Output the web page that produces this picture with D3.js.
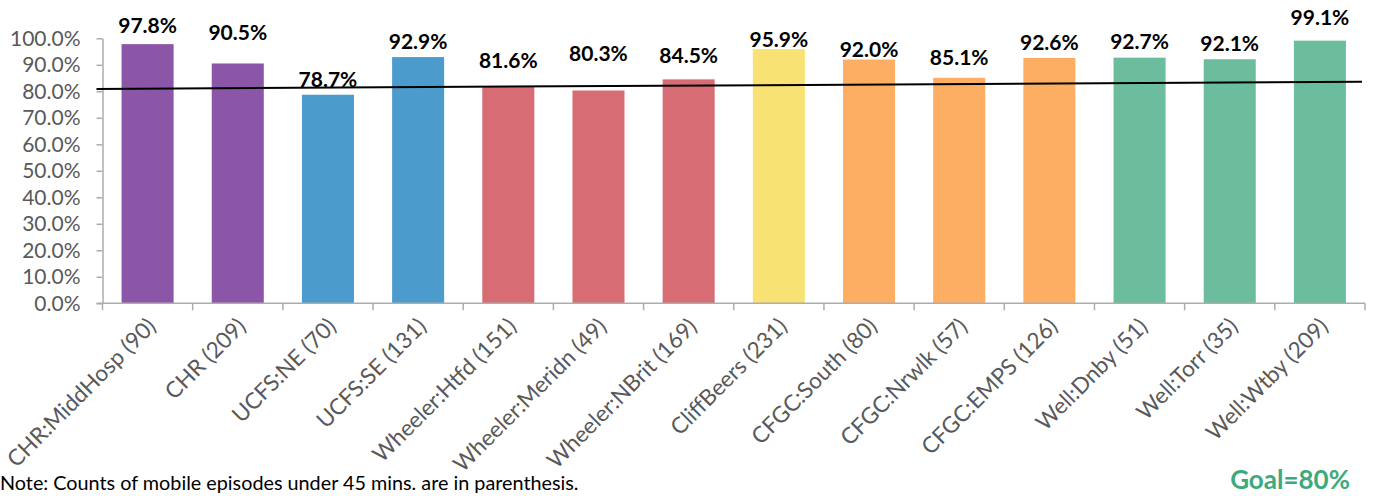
<!DOCTYPE html>
<html>
<head>
<meta charset="utf-8">
<script src="https://cdn.jsdelivr.net/npm/d3@7"></script>
<style>
  html, body { margin: 0; padding: 0; background: #fff; }
  svg { display: block; }
  text { font-family: Lato, "Open Sans", sans-serif; }
</style>
</head>
<body>
<svg id="chart" width="1374" height="496"></svg>
<script>
// Share of mobile episodes under 45 minutes, by agency site
const categories = [
  "CHR:MiddHosp (90)", "CHR (209)", "UCFS:NE (70)", "UCFS:SE (131)",
  "Wheeler:Htfd (151)", "Wheeler:Meridn (49)", "Wheeler:NBrit (169)",
  "CliffBeers (231)", "CFGC:South (80)", "CFGC:Nrwlk (57)", "CFGC:EMPS (126)",
  "Well:Dnby (51)", "Well:Torr (35)", "Well:Wtby (209)"
];
const agencies = [
  "CHR", "CHR", "UCFS", "UCFS", "Wheeler", "Wheeler", "Wheeler",
  "CliffBeers", "CFGC", "CFGC", "CFGC", "Well", "Well", "Well"
];
const values = [97.8, 90.5, 78.7, 92.9, 81.6, 80.3, 84.5, 95.9, 92.0, 85.1, 92.6, 92.7, 92.1, 99.1];
const yTicks = [0, 10, 20, 30, 40, 50, 60, 70, 80, 90, 100];
// goal reference line, value at its left and right ends
const goalLine = [80.9, 83.6];
const goalLabel = "Goal=80%";
const noteText = "Note: Counts of mobile episodes under 45 mins. are in parenthesis.";

// layout
const agencyColors = ["#8B56A7", "#4B9BCC", "#D76C75", "#F8E274", "#FDAE62", "#6CBD9E"];
// gap in px between each bar top and the baseline of its value label
const labelLift = [10.8, 23.5, 7.5, 7.8, 18.8, 29.5, 16, 2.5, 2.2, 12.8, 7.9, 8.6, 8.5, 15.7];

const plot = { left: 102.5, right: 1365, top: 38.3, bottom: 303.3 };
const axisGray = "#ADADAD";
const labelGray = "#595959";

const svg = d3.select("#chart");

const x = d3.scaleBand()
  .domain(categories)
  .range([plot.left, plot.right])
  .paddingInner(0.423)
  .paddingOuter(0.2115);

const y = d3.scaleLinear()
  .domain([0, 100])
  .range([plot.bottom, plot.top]);

const color = d3.scaleOrdinal()
  .domain(["CHR", "UCFS", "Wheeler", "CliffBeers", "CFGC", "Well"])
  .range(agencyColors);

// y axis
const yAxis = svg.append("g")
  .attr("transform", `translate(${plot.left},0)`)
  .call(d3.axisLeft(y)
    .tickValues(yTicks)
    .tickSize(6)
    .tickSizeOuter(0)
    .tickPadding(16)
    .tickFormat(d => d.toFixed(1) + "%"));
yAxis.select(".domain").attr("stroke", axisGray).attr("stroke-width", 1.5);
yAxis.selectAll(".tick line").attr("stroke", axisGray).attr("stroke-width", 1.5);
yAxis.selectAll(".tick text")
  .attr("fill", labelGray)
  .style("font-size", "21px");

// bars
const data = categories.map((c, i) => ({ cat: c, agency: agencies[i], value: values[i], lift: labelLift[i] }));

svg.append("g")
  .selectAll("rect")
  .data(data)
  .join("rect")
  .attr("x", d => x(d.cat))
  .attr("width", x.bandwidth())
  .attr("y", d => y(d.value))
  .attr("height", d => y(0) - y(d.value))
  .attr("fill", d => color(d.agency));

// x axis line with category boundary ticks
const half = (x.step() - x.bandwidth()) / 2;
const boundaries = categories.map(c => x(c) - half).concat([x(categories[categories.length - 1]) + x.bandwidth() + half]);
const xAxis = svg.append("g");
xAxis.append("line")
  .attr("x1", plot.left - 6).attr("x2", boundaries[boundaries.length - 1])
  .attr("y1", y(0)).attr("y2", y(0))
  .attr("stroke", axisGray).attr("stroke-width", 1.5);
xAxis.selectAll("line.tick")
  .data(boundaries)
  .join("line")
  .attr("class", "tick")
  .attr("x1", d => d).attr("x2", d => d)
  .attr("y1", y(0)).attr("y2", y(0) + 7)
  .attr("stroke", axisGray).attr("stroke-width", 1.5);

// rotated category labels
xAxis.selectAll("text")
  .data(categories)
  .join("text")
  .attr("transform", d => `translate(${x(d) + x.bandwidth() / 2 + 4},${y(0) + 19}) rotate(-45)`)
  .attr("text-anchor", "end")
  .attr("dy", "0.35em")
  .attr("fill", labelGray)
  .style("font-size", "22.5px")
  .text(d => d);

// goal line
svg.append("line")
  .attr("x1", plot.left - 6).attr("x2", plot.right - 3)
  .attr("y1", y(goalLine[0])).attr("y2", y(goalLine[1]))
  .attr("stroke", "#000").attr("stroke-width", 2);

// value labels
svg.append("g")
  .selectAll("text")
  .data(data)
  .join("text")
  .attr("x", d => x(d.cat) + x.bandwidth() / 2)
  .attr("y", d => y(d.value) - d.lift)
  .attr("text-anchor", "middle")
  .attr("fill", "#000")
  .style("font-size", "21px")
  .style("font-weight", "bold")
  .text(d => d.value.toFixed(1) + "%");

// footnote and goal text
svg.append("text")
  .attr("x", 0).attr("y", 490)
  .attr("fill", "#000")
  .style("font-size", "19.8px")
  .text(noteText);

svg.append("text")
  .attr("x", 1350).attr("y", 489)
  .attr("text-anchor", "end")
  .attr("fill", "#3DAA7D")
  .style("font-size", "26px")
  .style("font-weight", "bold")
  .text(goalLabel);
</script>
</body>
</html>
